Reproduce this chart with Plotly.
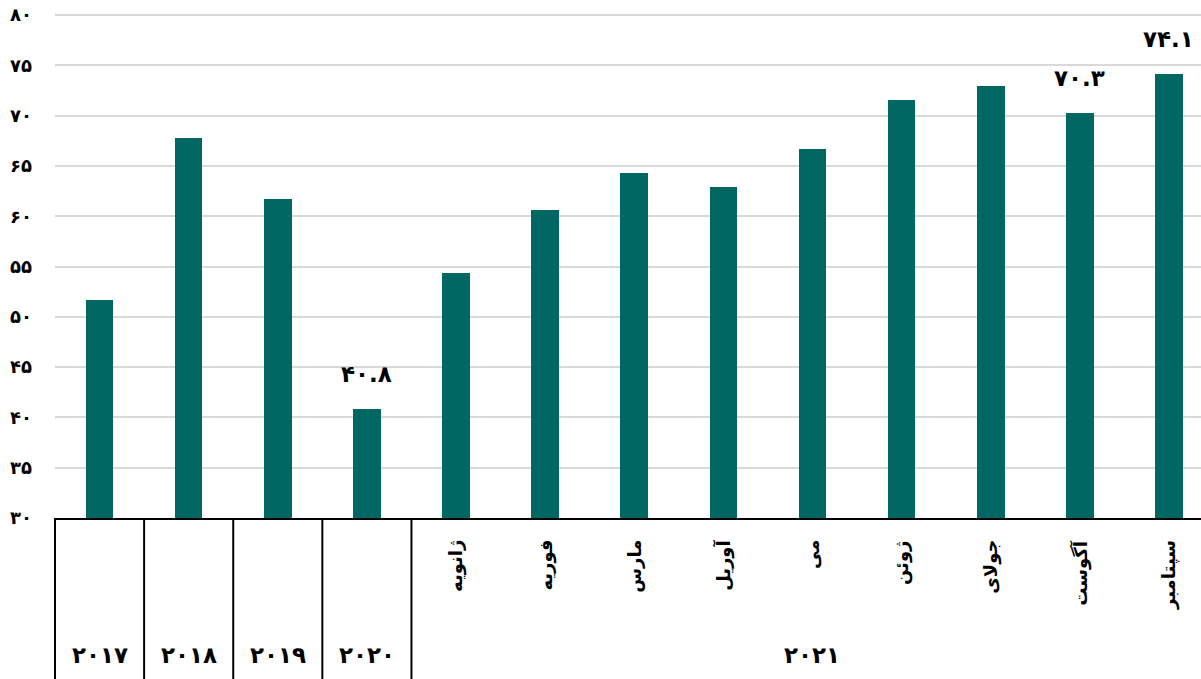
import plotly.graph_objects as go

# ---- data ----
categories = ["2017", "2018", "2019", "2020", "ژانویه", "فوریه", "مارس", "آوریل",
              "می", "ژوئن", "جولای", "آگوست", "سپتامبر"]
values = [51.7, 67.8, 61.7, 40.8, 54.4, 60.6, 64.3, 62.9, 66.7, 71.6, 72.9, 70.3, 74.1]
labeled = [3, 11, 12]  # bars with value labels
year_groups = [("2017", 0, 0), ("2018", 1, 1), ("2019", 2, 2), ("2020", 3, 3), ("2021", 4, 12)]
month_idx = list(range(4, 13))
y_ticks = [30, 35, 40, 45, 50, 55, 60, 65, 70, 75, 80]

PD = str.maketrans("0123456789", "۰۱۲۳۴۵۶۷۸۹")
def fa(s):
    return str(s).translate(PD)

BAR = "#016763"
FONT = "DejaVu Sans"
GRID = "#d9d9d9"
xr = [-0.5, 12.36]
yr = [30, 80.1]
W, H = 1201, 679
ML, MR, MT, MB = 55, 0, 14, 161

def xpaper(v):
    return (v - xr[0]) / (xr[1] - xr[0])

x = list(range(len(categories)))
fig = go.Figure(go.Bar(x=x, y=values, marker=dict(color=BAR, line=dict(width=0)),
                       width=0.31, hoverinfo="skip"))

ann = []
for i in labeled:
    ann.append(dict(x=i, y=values[i], xref="x", yref="y", text=fa(f"{values[i]:.1f}"),
                    showarrow=False, yanchor="bottom", yshift=20,
                    font=dict(family=FONT, size=23, color="black", weight="bold")))
for i in month_idx:
    ann.append(dict(x=i, y=0, xref="x", yref="paper", text=categories[i], textangle=-90,
                    showarrow=False, yanchor="top", xanchor="center", yshift=-20,
                    font=dict(family=FONT, size=18, color="black", weight="bold")))
for name, a, b in year_groups:
    ann.append(dict(x=(a + b) / 2, y=0, xref="x", yref="paper", text=fa(name),
                    showarrow=False, yanchor="middle", yshift=-137,
                    font=dict(family=FONT, size=23, color="black", weight="bold")))

shapes = [dict(type="line", xref="paper", yref="y", x0=0, x1=1, y0=y_ticks[-1], y1=y_ticks[-1],
               line=dict(color=GRID, width=1.5), layer="below")]
bottom = -MB / (H - MT - MB)
for v in [-0.5, 0.5, 1.5, 2.5, 3.5]:
    px = xpaper(v)
    shapes.append(dict(type="line", xref="paper", yref="paper", x0=px, x1=px, y0=0, y1=bottom,
                       line=dict(color="black", width=2)))

fig.update_layout(
    width=W, height=H, margin=dict(l=ML, r=MR, t=MT, b=MB),
    paper_bgcolor="white", plot_bgcolor="white", showlegend=False,
    bargap=0, annotations=ann, shapes=shapes,
    xaxis=dict(range=xr, showticklabels=False, showgrid=False, zeroline=False,
               showline=True, linecolor="black", linewidth=2, ticks=""),
    yaxis=dict(range=yr, tickvals=y_ticks, ticktext=[fa(t) for t in y_ticks],
               showgrid=True, gridcolor=GRID, gridwidth=1.5, zeroline=False,
               showline=False, ticks="", ticklabelstandoff=22, ticklabeloverflow="allow",
               tickfont=dict(family=FONT, size=18, color="black", weight="bold")),
)
fig.write_html("out.html", post_script="document.body.style.margin='0';",
               config={"displayModeBar": False})
